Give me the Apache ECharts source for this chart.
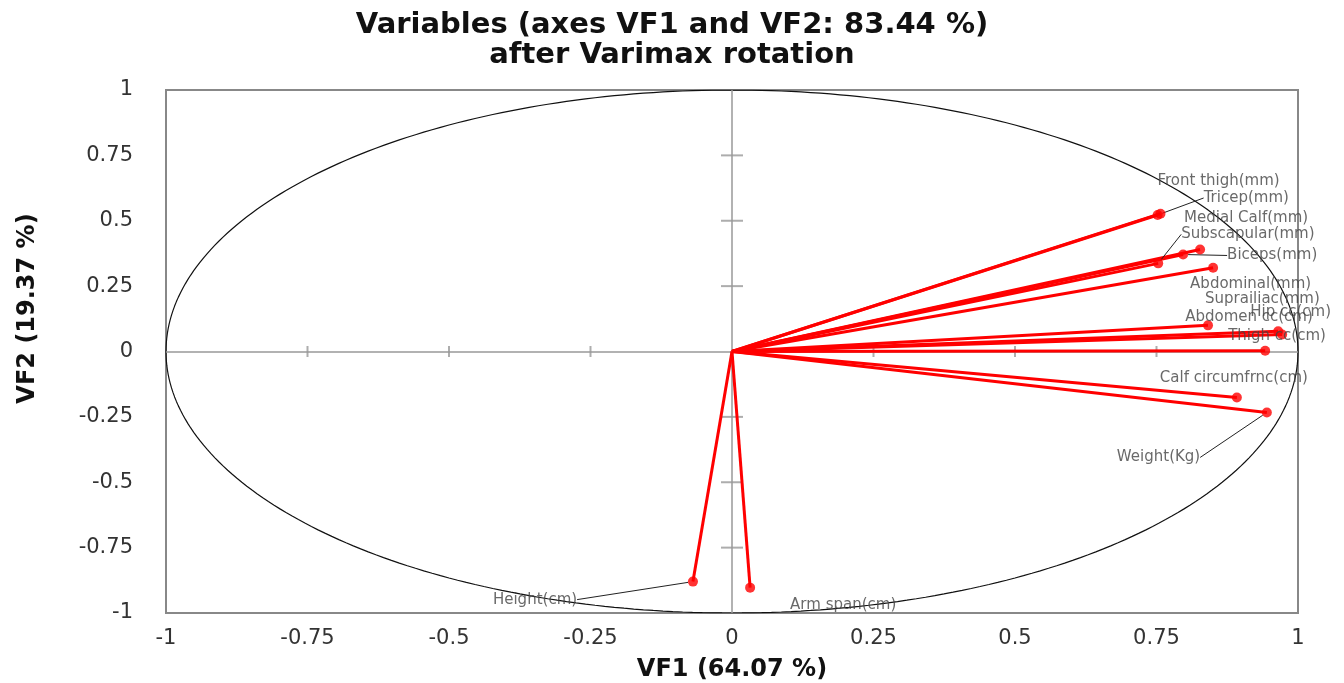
<!DOCTYPE html>
<html><head><meta charset="utf-8">
<script src="https://cdn.jsdelivr.net/npm/echarts@6/dist/echarts.min.js"></script>
<style>html,body{margin:0;padding:0;background:#fff}#c{width:1344px;height:683px}</style>
</head><body><div id="c"></div>
<script>
// ---- data ----
const variables = ['Front thigh(mm)','Tricep(mm)','Medial Calf(mm)','Subscapular(mm)','Biceps(mm)','Abdominal(mm)','Suprailiac(mm)','Hip cc(cm)','Abdomen cc(cm)','Thigh cc(cm)','Calf circumfrnc(cm)','Weight(Kg)','Height(cm)','Arm span(cm)'];
const vf1 = [0.757, 0.752, 0.827, 0.753, 0.797, 0.850, 0.841, 0.965, 0.972, 0.942, 0.892, 0.945, -0.069, 0.032];
const vf2 = [0.527, 0.522, 0.390, 0.337, 0.371, 0.320, 0.100, 0.077, 0.065, 0.003, -0.176, -0.233, -0.880, -0.903];
const tickValues = [-1, -0.75, -0.5, -0.25, 0, 0.25, 0.5, 0.75, 1];
const innerTicks = [-0.75, -0.5, -0.25, 0.25, 0.5, 0.75];
const titleText = 'Variables (axes VF1 and VF2: 83.44 %)\nafter Varimax rotation';
const xName = 'VF1 (64.07 %)';
const yName = 'VF2 (19.37 %)';

// ---- label placement (style only) ----
const labelOffsets = [[-8,-33],[41,-17],[-21,-31],[18,-29],[39,1],[-28,16],[-8,-26],[-33,-19],[-102,-17],[-42,-15],[-82,-19],[-155,45],[-205,18],[35,17]];
const leaderShown = [false,true,false,true,true,false,false,false,false,false,false,true,true,false];

const FONT = 'DejaVu Sans';
const chart = echarts.init(document.getElementById('c'), null, {renderer:'canvas'});

const circle = [];
for (let i = 0; i <= 360; i++) { const a = i * Math.PI / 180; circle.push([Math.cos(a), Math.sin(a)]); }

const vectorSeries = variables.map((n, i) => ({
  type: 'line', name: n, data: [[0, 0], [vf1[i], vf2[i]]], showSymbol: false, symbol: 'none',
  lineStyle: {color: '#ff0000', width: 3}, z: 5, silent: true, animation: false
}));

const option = {
  animation: false,
  backgroundColor: '#fff',
  title: {text: titleText, left: 'center', top: 5,
    textStyle: {fontFamily: FONT, fontWeight: 'bold', fontSize: 29, lineHeight: 30, color: '#111'}},
  grid: {left: 166, right: 46, top: 90, bottom: 70, containLabel: false, outerBoundsMode: 'none',
    show: true, borderColor: '#888', borderWidth: 2, backgroundColor: 'transparent'},
  xAxis: {type: 'value', min: -1, max: 1, interval: 0.25, position: 'bottom',
    axisLine: {show: false, onZero: false}, axisTick: {show: false}, splitLine: {show: false},
    axisLabel: {fontFamily: FONT, fontSize: 21, color: '#333', margin: 15},
    name: xName, nameLocation: 'middle', nameGap: 45,
    nameTextStyle: {fontFamily: FONT, fontWeight: 'bold', fontSize: 24, color: '#111'}},
  yAxis: {type: 'value', min: -1, max: 1, interval: 0.25, position: 'left',
    axisLine: {show: false, onZero: false}, axisTick: {show: false}, splitLine: {show: false},
    axisLabel: {fontFamily: FONT, fontSize: 21, color: '#333', margin: 33},
    name: yName, nameLocation: 'middle', nameGap: 126, nameRotate: 90,
    nameTextStyle: {fontFamily: FONT, fontWeight: 'bold', fontSize: 24, color: '#111', padding: [0, 0, 0, 86]}},
  series: [
    {type: 'scatter', data: innerTicks.map(v => [v, 0]), symbol: 'rect', symbolSize: [2, 11],
      itemStyle: {color: '#999'}, z: 2, silent: true,
      markLine: {silent: true, symbol: 'none', label: {show: false},
        lineStyle: {color: '#999', width: 1.5, type: 'solid'},
        data: [{xAxis: 0}, {yAxis: 0}]}},
    {type: 'scatter', data: innerTicks.map(v => [0, v]), symbol: 'rect', symbolSize: [22, 2],
      itemStyle: {color: '#999'}, z: 2, silent: true},
    {type: 'line', data: circle, showSymbol: false, symbol: 'none', smooth: false,
      lineStyle: {color: '#111', width: 1.2}, z: 3, silent: true},
    ...vectorSeries,
    {type: 'scatter', name: 'points', z: 6, symbolSize: 10, itemStyle: {color: '#ff0000'},
      data: variables.map((n, i) => ({name: n, value: [vf1[i], vf2[i]], labelLine: {show: leaderShown[i]}})),
      label: {show: true, position: 'right', distance: 0, formatter: p => p.name,
        fontFamily: FONT, fontSize: 15, color: '#444'},
      labelLine: {show: false, lineStyle: {color: '#222', width: 1}},
      labelLayout: function (p) { const o = labelOffsets[p.dataIndex]; return {dx: o[0], dy: o[1]}; }}
  ]
};
chart.setOption(option);
</script></body></html>
